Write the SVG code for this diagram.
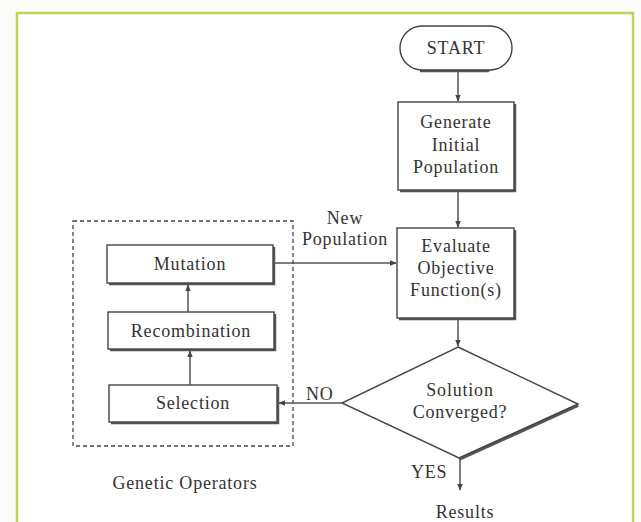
<svg xmlns="http://www.w3.org/2000/svg" width="641" height="522" viewBox="0 0 641 522">
  <defs>
    <marker id="arrow" viewBox="0 0 10 10" refX="9" refY="5" markerWidth="7" markerHeight="7" orient="auto" markerUnits="userSpaceOnUse">
      <path d="M0,1 L10,5 L0,9 z" fill="#444"/>
    </marker>
    <style>
      text { font-family: "Liberation Serif", "Times New Roman", serif; font-size: 18px; fill: #333; letter-spacing: 0.8px; }
      .c { text-anchor: middle; }
      .box { fill: #fff; stroke: #444; stroke-width: 1.4; }
      .shadow { fill: none; stroke: #555; stroke-width: 2.5; }
      .edge { fill: none; stroke: #555; stroke-width: 1.5; marker-end: url(#arrow); }
      .frame { fill: #fff; stroke: #c2d05a; stroke-width: 2.5; }
      .group { fill: none; stroke: #444; stroke-width: 1.3; stroke-dasharray: 4 3; }
    </style>
  </defs>

  <rect width="641" height="522" fill="#fbfbf8"/>
  <!-- outer frame -->
  <path class="frame" d="M17,530 L17,13 L633,13 L633,530"/>

  <!-- dashed grouping of the genetic operators -->
  <rect class="group" x="73" y="221" width="220" height="225"/>

  <g id="start">
    <path class="shadow" d="M490,28 Q514,48 488,71 L420,71"/>
    <rect class="box" x="400" y="26" width="112" height="44" rx="22" ry="22"/>
    <text class="c" x="456" y="54">START</text>
  </g>

  <g id="generate">
    <path class="shadow" d="M515,104 L515,191 L400,191"/>
    <rect class="box" x="398" y="102" width="116" height="88"/>
    <text class="c" x="456" y="128">Generate</text>
    <text class="c" x="456" y="151">Initial</text>
    <text class="c" x="456" y="173">Population</text>
  </g>

  <g id="evaluate">
    <path class="shadow" d="M515,230 L515,319 L399,319"/>
    <rect class="box" x="397" y="228" width="117" height="90"/>
    <text class="c" x="456" y="252">Evaluate</text>
    <text class="c" x="456" y="274">Objective</text>
    <text class="c" x="456" y="296">Function(s)</text>
  </g>

  <g id="decision">
    <path d="M578,405 L459,459" fill="none" stroke="#555" stroke-width="4"/>
    <polygon class="box" points="458,347 578,404 459,458 342,403"/>
    <text class="c" x="460" y="396">Solution</text>
    <text class="c" x="460" y="418">Converged?</text>
  </g>

  <g id="mutation">
    <path class="shadow" d="M274,247 L274,284 L109,284"/>
    <rect class="box" x="107" y="245" width="166" height="38"/>
    <text class="c" x="190" y="270">Mutation</text>
  </g>

  <g id="recombination">
    <path class="shadow" d="M275,314 L275,350 L110,350"/>
    <rect class="box" x="108" y="312" width="166" height="37"/>
    <text class="c" x="191" y="337">Recombination</text>
  </g>

  <g id="selection">
    <path class="shadow" d="M278,387 L278,423 L111,423"/>
    <rect class="box" x="109" y="385" width="168" height="37"/>
    <text class="c" x="193" y="409">Selection</text>
  </g>

  <g id="connectors">
    <line class="edge" x1="458" y1="71" x2="458" y2="101"/>
    <line class="edge" x1="458" y1="191" x2="458" y2="227"/>
    <line class="edge" x1="458" y1="319" x2="458" y2="346"/>
    <line class="edge" x1="275" y1="263" x2="396" y2="263"/>
    <line class="edge" x1="342" y1="403" x2="279" y2="403"/>
    <line class="edge" x1="190" y1="385" x2="190" y2="351"/>
    <line class="edge" x1="188" y1="312" x2="188" y2="285"/>
    <line class="edge" x1="460" y1="459" x2="460" y2="490"/>
  </g>

  <g id="labels">
    <text class="c" x="345" y="224">New</text>
    <text class="c" x="345" y="245">Population</text>
    <text x="306" y="400">NO</text>
    <text x="411" y="478">YES</text>
    <text class="c" x="465" y="518">Results</text>
    <text class="c" x="185" y="489">Genetic Operators</text>
  </g>
</svg>
